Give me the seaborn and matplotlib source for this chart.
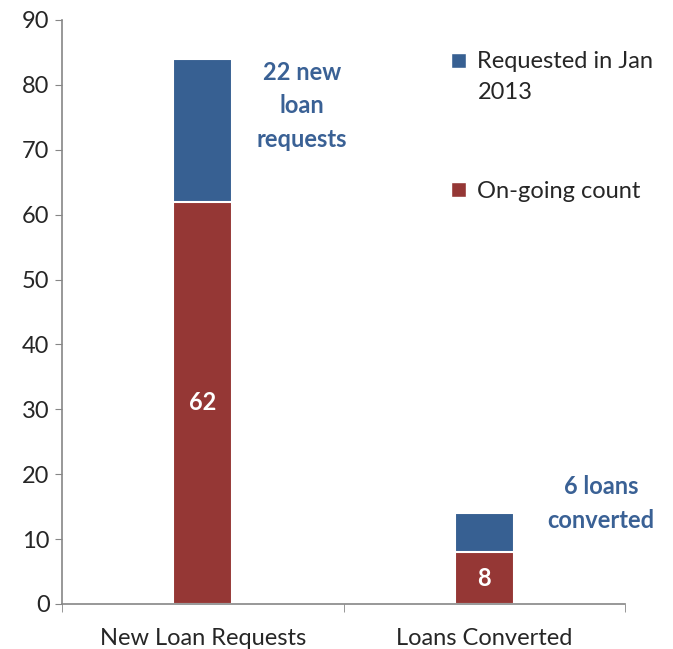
import matplotlib
matplotlib.use("Agg")
import matplotlib.pyplot as plt
from matplotlib.patches import Patch
import pandas as pd
import seaborn as sns

# ─────────────────────────────────────────────────────────────
# DATA
# ─────────────────────────────────────────────────────────────
categories = ["New Loan Requests", "Loans Converted"]
ongoing    = [62, 8]
requested  = [22, 6]
series     = ["Requested in Jan\n2013", "On-going count"]
notes      = ["22 new\nloan\nrequests", "6 loans\nconverted"]
y_ticks    = [0, 10, 20, 30, 40, 50, 60, 70, 80, 90]

BLUE  = "#376092"
RED   = "#953735"
GREY  = "#868686"
TEXT_BLUE = "#3A6195"
FS = 17

sns.set_style("ticks")
plt.rcParams["font.family"] = ["Lato", "DejaVu Sans"]

df = pd.DataFrame({
    "category": categories,
    "ongoing": ongoing,
    "total": [o + r for o, r in zip(ongoing, requested)],
})

fig = plt.figure(figsize=(6.73, 6.49), dpi=100)
ax = fig.add_axes([62 / 673, 1 - 604 / 649, (625 - 62) / 673, (604 - 20) / 649])

# stacked bars: total in blue underneath, on-going in red on top
sns.barplot(data=df, x="category", y="total", color=BLUE, width=0.21,
            edgecolor="white", linewidth=1.5, saturation=1, ax=ax)
sns.barplot(data=df, x="category", y="ongoing", color=RED, width=0.21,
            edgecolor="white", linewidth=1.5, saturation=1, ax=ax)

# value labels inside the red part
red_bars = ax.containers[1]
ax.bar_label(red_bars, labels=[str(v) for v in ongoing], label_type="center",
             color="white", fontweight="bold", fontsize=FS)

# side notes
ax.text(0.353, 76.8, notes[0], ha="center", va="center", color=TEXT_BLUE,
        fontweight="bold", fontsize=FS, linespacing=1.55)
ax.text(1.415, 15.5, notes[1], ha="center", va="center", color=TEXT_BLUE,
        fontweight="bold", fontsize=FS, linespacing=1.55)

# axes styling
ax.set_ylim(0, 90)
ax.set_xlim(-0.5, 1.5)
ax.set_yticks(y_ticks)
ax.set_xlabel("")
ax.set_ylabel("")
ax.tick_params(axis="y", labelsize=FS, length=5, color=GREY, pad=4)
ax.tick_params(axis="x", which="major", labelsize=FS, length=0, pad=17.5)
ax.set_xticks([-0.5, 0.5, 1.5], minor=True)
ax.tick_params(axis="x", which="minor", length=6, color=GREY)
sns.despine(ax=ax)
for side in ["left", "bottom"]:
    ax.spines[side].set_color(GREY)
    ax.spines[side].set_linewidth(1.2)

# legend
handles = [Patch(facecolor=BLUE, edgecolor="white"),
           Patch(facecolor=RED, edgecolor="white")]
leg = ax.legend(handles, series, loc="upper left", bbox_to_anchor=(0.654, 0.984),
                frameon=False, fontsize=FS, handlelength=0.6, handleheight=0.6,
                handletextpad=0.5, labelspacing=3.3)
for t in leg.get_texts():
    t.set_linespacing(1.6)
# keep the first swatch level with the first line of its two-line label
sw = leg.legend_handles[0]
sw.set_y(sw.get_y() + 11.5)

fig.savefig("out.png", dpi=100)
